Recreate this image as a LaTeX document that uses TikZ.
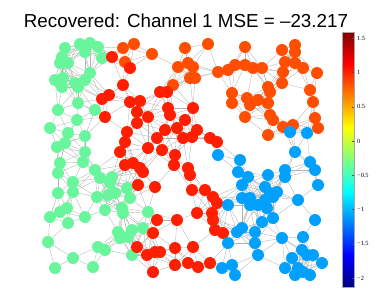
\documentclass[tikz,border=0pt]{standalone}
\usepackage{fontspec}
\setmainfont{Liberation Sans}
\newfontfamily\cbfont{Liberation Serif}
\usetikzlibrary{backgrounds}
\definecolor{cg}{RGB}{104,245,155}
\definecolor{cr}{RGB}{255,30,0}
\definecolor{co}{RGB}{255,78,0}
\definecolor{cb}{RGB}{0,160,255}
\definecolor{jdkblue}{rgb}{0,0,0.5}
\definecolor{jblue}{rgb}{0,0,1}
\definecolor{jcyan}{rgb}{0,1,1}
\definecolor{jyellow}{rgb}{1,1,0}
\definecolor{jred}{rgb}{1,0,0}
\definecolor{jdkred}{rgb}{0.5,0,0}
\pgfdeclareverticalshading{jet}{100bp}{color(0bp)=(jdkblue); color(25bp)=(jdkblue);
  color(31.25bp)=(jblue); color(43.75bp)=(jcyan); color(56.25bp)=(jyellow);
  color(68.75bp)=(jred); color(75bp)=(jdkred); color(100bp)=(jdkred)}
\tikzset{
  vtx/.style={circle, inner sep=0pt, minimum size=12pt},
  edge/.style={gray!60, line width=0.35pt},
  cblabel/.style={anchor=west, inner sep=0pt, font=\cbfont\fontsize{6.3}{6.3}\selectfont}
}
\begin{document}
\begin{tikzpicture}[x=1pt, y=-1pt]
  \useasboundingbox (0,0) rectangle (391,300);
  % タイトル
  \node[anchor=base, font=\fontsize{18.8}{20}\selectfont] (title) at (186,27)
    {Recovered: Channel 1 MSE = –23.217};
  % 頂点
  \foreach \x/\y/\col [count=\i] in {
    65/48/g,80/44/g,90/43/g,98/47/g,85/52/g,62/57/g,60/63/g,68/63/g,102/58/g,90/73/g,
    55/80/g,63/78/g,62/87/g,75/83/g,78/87/g,85/80/g,78/103/g,58/110/g,95/110/g,77/120/g,
    50/128/g,68/133/g,85/136/g,57/147/g,65/143/g,85/152/g,60/163/g,83/162/g,58/173/g,95/170/g,
    73/182/g,100/178/g,112/177/g,110/183/g,58/193/g,73/192/g,97/197/g,108/195/g,115/193/g,127/188/g,
    130/198/g,60/212/g,67/208/g,50/217/g,85/217/g,105/210/g,122/208/g,123/213/g,148/212/g,68/223/g,
    118/232/g,132/230/g,143/228/g,120/238/g,128/237/g,48/242/g,98/247/g,105/250/g,132/255/g,73/258/g,
    55/268/g,93/267/g,
    123/48/o,134/44/o,152/54/o,125/62/o,178/67/o,173/85/o,185/48/o,208/44/o,245/47/o,282/50/o,
    295/45/o,295/52/o,188/63/o,193/67/o,190/78/o,195/78/o,218/72/o,228/70/o,235/65/o,245/65/o,
    253/68/o,262/68/o,285/62/o,295/63/o,303/68/o,283/72/o,317/73/o,282/83/o,268/87/o,270/92/o,
    232/93/o,232/103/o,247/98/o,250/105/o,258/100/o,268/103/o,310/90/o,313/102/o,245/117/o,270/115/o,
    273/120/o,283/127/o,293/125/o,315/118/o,318/128/o,268/135/o,
    112/57/r,130/68/r,123/85/r,109/95/r,102/99/r,130/102/r,140/101/r,137/112/r,105/117/r,148/117/r,
    137/123/r,160/92/r,167/92/r,168/108/r,170/115/r,165/130/r,177/128/r,127/132/r,157/138/r,125/142/r,
    148/148/r,120/152/r,162/150/r,193/108/r,185/120/r,183/138/r,192/137/r,197/130/r,210/138/r,217/142/r,
    125/165/r,133/163/r,140/168/r,143/172/r,138/185/r,155/187/r,157/220/r,153/233/r,137/247/r,147/255/r,
    155/252/r,160/252/r,153/272/r,175/155/r,174/165/r,188/168/r,190/175/r,192/190/r,205/190/r,213/197/r,
    217/203/r,197/213/r,212/213/r,213/220/r,177/220/r,215/230/r,223/233/r,193/247/r,175/248/r,175/265/r,
    188/263/r,198/267/r,210/263/r,
    290/132/b,307/133/b,218/155/b,240/160/b,238/172/b,248/177/b,242/185/b,265/187/b,268/175/b,285/170/b,
    285/177/b,295/152/b,310/162/b,315/170/b,318/185/b,242/198/b,250/198/b,228/205/b,250/205/b,258/205/b,
    265/200/b,270/193/b,273/197/b,267/208/b,277/192/b,298/200/b,262/222/b,273/218/b,315/220/b,242/228/b,
    237/232/b,255/232/b,282/238/b,303/237/b,228/243/b,255/243/b,258/255/b,302/250/b,307/255/b,313/255/b,
    292/258/b,322/263/b,222/268/b,232/265/b,235/275/b,285/268/b,298/268/b,303/272/b,295/275/b,310/275/b} {
    \node[vtx, fill=c\col] (n\i) at (\x,\y) {};
    \expandafter\xdef\csname px\i\endcsname{\x}
    \expandafter\xdef\csname py\i\endcsname{\y}
    \xdef\nnodes{\i}
  }
  % 近い頂点どうしを結ぶ辺
  \pgfmathtruncatemacro\nlast{\nnodes-1}
  \begin{scope}[on background layer]
    \foreach \i in {1,...,\nlast} {
      \pgfmathtruncatemacro\jfirst{\i+1}
      \foreach \j in {\jfirst,...,\nnodes} {
        \ifnum\numexpr(\csname px\i\endcsname-\csname px\j\endcsname)*(\csname px\i\endcsname-\csname px\j\endcsname)
          +(\csname py\i\endcsname-\csname py\j\endcsname)*(\csname py\i\endcsname-\csname py\j\endcsname)\relax<1000
          \draw[edge] (n\i) -- (n\j);
        \fi
      }
    }
  \end{scope}
  % カラーバー
  \shade[shading=jet] (342,32) rectangle (354,287);
  \draw[gray!70, line width=0.4pt] (342,32) rectangle (354,287);
  \foreach \v/\t [count=\k] in {1.5/1.5, 1/1, 0.5/0.5, 0/0, -0.5/−0.5, -1/−1, -1.5/−1.5, -2/−2} {
    \coordinate (tk\k) at (354,{141-68.6*\v});
    \draw[black!70, line width=0.4pt] (tk\k) -- ++(-2.5,0);
    \node[cblabel] (cb\k) at ([xshift=3pt]tk\k) {\t};
  }
\end{tikzpicture}
\end{document}
